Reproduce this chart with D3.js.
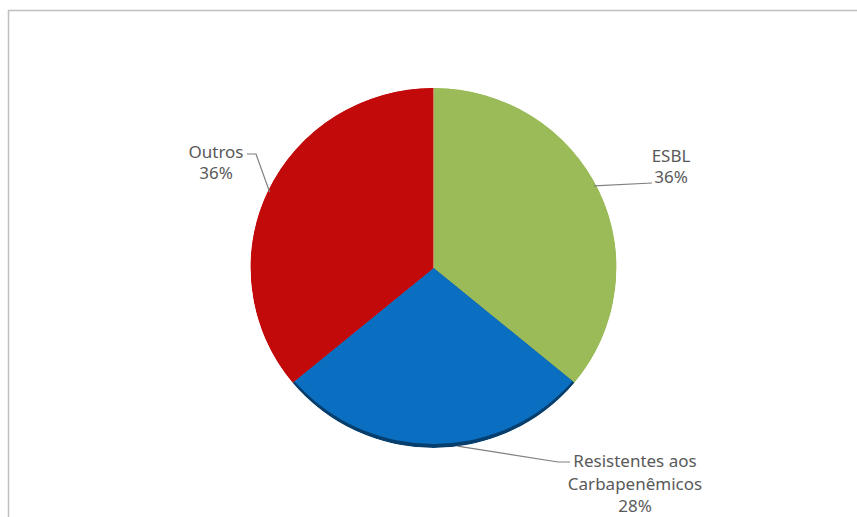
<!DOCTYPE html>
<html>
<head>
<meta charset="utf-8">
<script src="https://cdn.jsdelivr.net/npm/d3@7"></script>
<style>
  body { margin: 0; background: #fff; }
  text { font-family: "Noto Sans", "Open Sans", sans-serif; fill: #595959; }
</style>
</head>
<body>
<script>
// data
const categories = ["ESBL", "Resistentes aos Carbapenêmicos", "Outros"];
const values = [36, 28, 36];
const labelLines = [["ESBL", "36%"], ["Resistentes aos", "Carbapenêmicos", "28%"], ["Outros", "36%"]];

const width = 857, height = 517;
const cx = 433.5, cy = 268, radius = 183, squash = 180 / 183;

const svg = d3.select("body").append("svg")
  .attr("width", width)
  .attr("height", height);

// chart area frame (only top and left visible, it's cut off)
svg.append("rect")
  .attr("x", 8.5).attr("y", 10.5)
  .attr("width", width + 10).attr("height", height + 10)
  .attr("fill", "none")
  .attr("stroke", "#bfbfbf")
  .attr("stroke-width", 1.5);

const color = d3.scaleOrdinal()
  .domain(categories)
  .range(["#9bbb59", "#0b6fc1", "#c20a0a"]);

const pie = d3.pie().sort(null);
const arcs = pie(values);

const arc = d3.arc().innerRadius(0).outerRadius(radius);

const g = svg.append("g")
  .attr("transform", "translate(" + cx + "," + cy + ") scale(1," + squash + ")");

const defs = svg.append("defs");
arcs.forEach((d, i) => {
  defs.append("clipPath").attr("id", "clip" + i)
    .append("path").attr("d", arc(d));
});

// slices
const slices = g.selectAll("g.slice")
  .data(arcs)
  .enter()
  .append("g")
  .attr("class", "slice")
  .attr("clip-path", (d, i) => "url(#clip" + i + ")");

// darker rim at the bottom edge of the blue slice (Excel bevel look)
slices.append("circle")
  .attr("r", radius)
  .attr("fill", (d, i) => i === 1 ? d3.color(color(categories[i])).darker(1.6) : color(categories[i]));

slices.append("circle")
  .attr("cy", -4)
  .attr("r", radius)
  .attr("fill", (d, i) => color(categories[i]));

// leader lines + labels
const labelPos = [
  { x: 671, y: 162, lead: [[652, 183]] },
  { x: 635, y: 467, lead: [[558, 462], [570, 462]] },
  { x: 216, y: 158, lead: [[256, 154], [247, 154]] }
];

arcs.forEach((d, i) => {
  // start the leader a bit up the arc from the mid angle for ESBL, like Excel does
  let mid = (d.startAngle + d.endAngle) / 2;
  if (i === 0) mid -= 0.04;
  const p = [cx + Math.sin(mid) * (radius - 2), cy - Math.cos(mid) * (radius - 2) * squash];
  if (i === 1) p[0] += 24;
  const pts = [p].concat(labelPos[i].lead);
  svg.append("path")
    .attr("d", d3.line()(pts))
    .attr("fill", "none")
    .attr("stroke", "#7f7f7f")
    .attr("stroke-width", 1.2);

  const t = svg.append("text")
    .attr("x", labelPos[i].x)
    .attr("y", labelPos[i].y)
    .attr("text-anchor", "middle")
    .style("font-size", "17px");
  labelLines[i].forEach((line, j) => {
    t.append("tspan")
      .attr("x", labelPos[i].x)
      .attr("dy", j === 0 ? 0 : (i === 1 ? 22.5 : 21))
      .text(line);
  });
});
</script>
</body>
</html>
